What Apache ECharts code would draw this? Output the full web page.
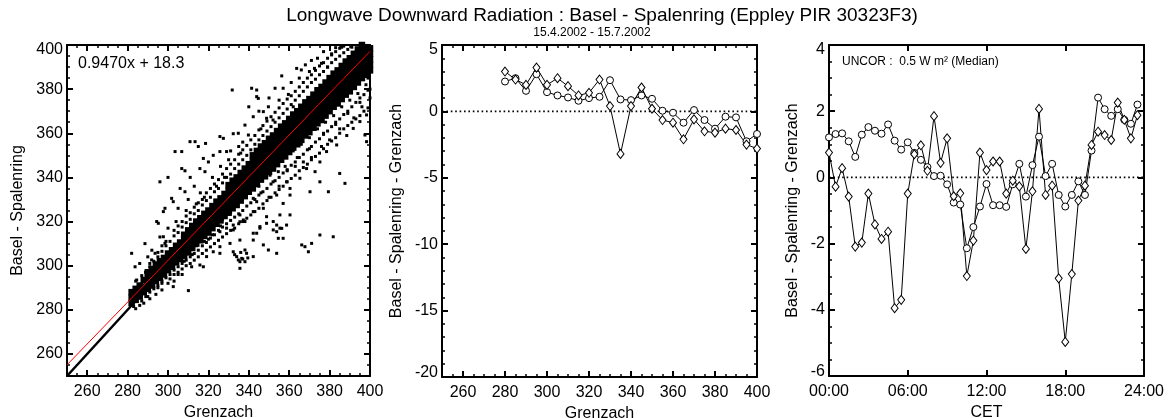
<!DOCTYPE html>
<html><head><meta charset="utf-8">
<script src="https://cdn.jsdelivr.net/npm/echarts@6/dist/echarts.min.js"></script>
<style>html,body{margin:0;padding:0;background:#fff}#c{width:1168px;height:418px}</style>
</head><body><div id="c"></div>
<script>
const FONT = '"Liberation Sans", Arial, Helvetica, sans-serif';
const titleText = 'Longwave Downward Radiation : Basel - Spalenring (Eppley PIR 30323F3)';
const subtitleText = '15.4.2002 - 15.7.2002';
const fitText = '0.9470x + 18.3';
const uncorText = 'UNCOR :  0.5 W m\u00b2 (Median)';
const fitSlope = 0.9470, fitIntercept = 18.3;

const scatterTicks = [260,280,300,320,340,360,380,400];
const diffYTicks = [-20,-15,-10,-5,0,5];
const diurnalYTicks = [-6,-4,-2,0,2,4];
const hourTicks = [0,6,12,18,24];
const hourLabels = ['00:00','06:00','12:00','18:00','24:00'];

const binCenters = [280,285,290,295,300,305,310,315,320,325,330,335,340,345,350,355,360,365,370,375,380,385,390,395,400];
const binDiamond = [3.0,2.4,2.0,3.3,2.0,2.5,1.9,1.2,1.4,2.4,0.4,-3.2,0.4,1.8,0.2,-0.65,-0.85,-2.1,-0.6,-1.5,-1.6,-1.3,-1.4,-2.5,-2.8];
const binCircle = [2.25,2.5,1.55,2.8,1.45,1.2,1.05,0.8,1.0,1.1,2.35,0.9,0.85,1.2,0.95,0.05,-0.1,-0.85,0.1,-0.65,-1.3,-0.4,-0.45,-2.25,-1.7];

const hours = [0,0.5,1,1.5,2,2.5,3,3.5,4,4.5,5,5.5,6,6.5,7,7.5,8,8.5,9,9.5,10,10.5,11,11.5,12,12.5,13,13.5,14,14.5,15,15.5,16,16.5,17,17.5,18,18.5,19,19.5,20,20.5,21,21.5,22,22.5,23,23.5];
const hourCircle = [1.21,1.31,1.33,1.09,0.62,1.29,1.52,1.41,1.32,1.6,1.11,0.84,1.06,0.74,0.53,0.31,0.04,0.05,-0.21,-0.76,-0.82,-2.14,-1.5,-0.88,-0.2,-0.84,-0.84,-0.89,-0.21,0.41,-0.58,0.37,1.23,0.04,0.41,-0.53,-0.88,-0.53,-0.12,-0.53,0.81,2.41,2.06,1.86,2.06,1.74,1.62,2.2];
const hourDiamond = [0.75,-0.28,0.28,-0.58,-2.09,-1.97,-0.49,-1.42,-1.86,-1.64,-3.95,-3.7,-0.49,0.7,0.97,0.2,1.85,0.44,1.18,-0.57,-0.48,-2.98,-1.91,0.75,0.22,0.48,0.48,-0.49,-0.1,-0.27,-2.16,-0.42,2.07,-0.53,-0.25,-3.05,-4.97,-2.92,-0.7,-0.25,0.98,1.38,1.28,1.13,2.26,1.74,1.18,1.88];

// dense core of the scatter cloud: [Grenzach, [Basel values...]]
const coreColumns = [
[282,[283,285.5,288]],[284,[284.5,287,289.5]],[286,[286,288.5,291]],[288,[288,290.5,293.5]],
[290,[289.5,292,294.5,297]],[292,[291,293.5,296,298.5]],[294,[293,295.5,298,300.5]],[296,[294.5,297,299.5,302]],
[298,[296,298.5,301,303.5]],[300,[298,300.5,303,305.5]],[302,[299.5,302,304.5,307]],[304,[301.5,304,306.5,309]],
[306,[303,305.5,308,310.5]],[308,[304.5,307,309.5,312,314]],[310,[306,308.5,311,313.5,316]],[312,[308,310.5,313,315.5,318]],
[314,[310,312.5,315,317.5,320]],[316,[311.5,314,316.5,319,321.5]],[318,[313.5,316,318.5,321,323.5]],[320,[315,317.5,320,322.5,325]],
[322,[317,319.5,322,324.5,327]],[324,[319,321.5,324,326.5,329]],[326,[320.5,323,325.5,328,330.5]],[328,[322.5,325,327.5,330,332.5]],
[330,[324,326.5,329,331.5,334,336.5]],[332,[326,328.5,331,333.5,336,338.5]],[334,[327.5,330,332.5,335,337.5,340]],[336,[329.5,332,334.5,337,339.5,342]],
[338,[331.5,334,336.5,339,341.5,344]],[340,[333.5,336,338.5,341,343.5,346]],[342,[335,337.5,340,342.5,345,347.5,350]],[344,[337,339.5,342,344.5,347,349.5,352]],
[346,[339,341.5,344,346.5,349,351.5,354]],[348,[340.5,343,345.5,348,350.5,353,355.5]],[350,[342.5,345,347.5,350,352.5,355,357.5]],[352,[344,346.5,349,351.5,354,356.5,359]],
[354,[346,348.5,351,353.5,356,358.5,361]],[356,[348,350.5,353,355.5,358,360.5,363]],[358,[349.5,352,354.5,357,359.5,362,364.5]],[360,[351.5,354,356.5,359,361.5,364,366.5]],
[362,[353.5,356,358.5,361,363.5,366,368.5]],[364,[355,357.5,360,362.5,365,367.5,370]],[366,[357,359.5,362,364.5,367,369.5,372]],[368,[359,361.5,364,366.5,369,371.5,374]],
[370,[360.5,363,365.5,368,370.5,373,375.5]],[372,[362.5,365,367.5,370,372.5,375,377.5]],[374,[364.5,367,369.5,372,374.5,377,379.5]],[376,[366,368.5,371,373.5,376,378.5,381]],
[378,[368,370.5,373,375.5,378,380.5,383]],[380,[370,372.5,375,377.5,380,382.5,385]],[382,[372,374.5,377,379.5,382,384.5,387]],[384,[373.5,376,378.5,381,383.5,386,388.5]],
[386,[375.5,378,380.5,383,385.5,388,390.5]],[388,[377.5,380,382.5,385,387.5,390,392.5]],[390,[379,381.5,384,386.5,389,391.5,394]],[392,[381,383.5,386,388.5,391,393.5,396]],
[394,[383,385.5,388,390.5,393,395.5,398]],[396,[385,387.5,390,392.5,395,397.5,400]],[398,[386.5,389,391.5,394,396.5,399]],[400,[388.5,391,393.5,396,398.5]]
];
// points just outside the core
const haloColumns = [
[284,[293,280.5]],[287,[295.5,284]],[289,[297,286]],[291,[299.5,301,288]],[293,[302,289.5,290.5]],[295,[304,306,291]],
[297,[306.5,293,292]],[299,[309,311,294.5]],[301,[311,296,294]],[303,[313.5,316,298,296]],[305,[315,318,299.5,297]],
[307,[317.5,320,301,298.5]],[309,[319.5,322.5,302.5,300]],[311,[321,324,304,301]],[313,[323.5,326.5,305.5,302.5]],
[315,[325,328.5,307,304]],[317,[327.5,330,309,305.5]],[319,[329.5,333,310.5,307]],[321,[331,335,312.5,308.5]],
[323,[333.5,337,314,310]],[325,[335,339,316,311.5]],[327,[337.5,341.5,317.5,313]],[329,[340,344,319,314.5]],
[331,[341.5,346,320.5,316]],[333,[344,348,322,317]],[335,[346,350.5,323.5,319]],[337,[348,352.5,325,320]],
[339,[350,354.5,327,321.5]],[341,[352.5,357,328.5,323]],[343,[355,359,330,324.5]],[345,[357,361.5,332,326]],
[347,[359,363.5,333.5,328]],[349,[361,365.5,335,329.5]],[351,[363,367.5,337,331]],[353,[365,369.5,338.5,333]],
[355,[367,371.5,340,334.5]],[357,[369,373.5,342,336]],[359,[371,375.5,343.5,338]],[361,[373,377,345.5,339.5]],
[363,[375,379,347,341]],[365,[377,381,349,343]],[367,[379,383,350.5,344.5]],[369,[381,385,352.5,346]],
[371,[383,386.5,354,348]],[373,[384.5,388.5,356,349.5]],[375,[386.5,390.5,357.5,351]],[377,[388,392,359.5,353]],
[379,[390,394,361,355]],[381,[392,395.5,363,356.5]],[383,[393.5,397,365,358]],[385,[395,398.5,366.5,360]],
[387,[396.5,399.5,368.5,362]],[389,[398,370,363.5]],[391,[399,372,365]],[393,[374,366.5]],[395,[376,368]],[397,[377.5,370]],[399,[379.5,371.5]]
];
const scatterOutliers = [
[331.8,379.6],[341.4,380.4],[343.9,379.6],[343.9,376.6],[344.7,375.8],[353,380.4],[357,380.4],[356.3,386],[359.6,377.6],[363.7,389.4],[366,388.7],[370,388],[372.5,389.4],[376,391.7],[379,390],
[347.2,369.8],[349.7,372],[348.8,366.8],[342.2,367.5],[338.1,363.7],[339.8,359.2],[325.7,358.5],[327.4,357.7],[332.3,359.8],[334.8,360],[313.4,356.2],[315,354],[310.9,356.2],[306.8,351.7],[318.6,355.4],
[317.5,348.6],[320,347],[322.4,350],[325.7,351.7],[329,351.7],[315.8,344],[318.3,342.6],[306.8,344],[308.4,343],[306,335],[308.4,333.5],[301.8,330.5],[302.6,329],[298.5,326],[297.7,324.5],[294.4,320],[295.2,319.2],
[303.5,351.7],[296,338],[300,340],[311,340],[313,336],[305,326],[310,330],[316,333],[322,340],[326,345],[330,348],[335,354],[337,356],[340,372],[345,370],[350,376],[355,375],[361,383],[365,385],[368,391],[374,394],[381,396],[386,399],[377,397],[371,393],[383,398.8],
[362,372],[352,366],[346,362],[336,351],[331,352],[328,340],[324,336],[318,331],[314,328],[309,325],[304,320],[300,317],[296,313],[292,307],[290,304],[288.6,310],[282,305.6],[283.7,299.5],[284.5,293.5],[291.9,302.6],[293.6,305.6],[297,309],[286,301],[289,297],[298.5,310.1],[297.7,313.1],
[350.5,341],[354.6,342.6],[358.7,338],[360.4,335],[365.3,339.6],[368.6,344],[372.8,342.6],[375.2,347],[378.5,351.7],[383.5,354.7],[388.5,359],[391.7,362.2],[395,365.3],[398.3,368.3],[385,341.8],[387.6,337.3],[398.3,356.2],[397.5,359.2],
[375.2,338],[379.4,333.5],[370.3,333.5],[353.8,332],[357,328.2],[360.4,332],[355.4,323],[360.4,323],[358.7,318.4],[355.4,317],[353.8,315.4],[343.9,329],[347.2,326],[342.2,324.5],[348.8,322.2],[352.1,320],[345.5,317],
[335.6,323],[338.1,320],[332.3,318.4],[329,317],[325.7,315.4],[342.2,330.5],[332.3,316.2],[335.6,319.9],[337.3,320.7],[342.2,314.7],[345.5,317.7],[348.8,319.2],[352.1,316.2],[353.8,318.4],[356.3,316.9],[354.6,312.4],[357,312.4],[343.9,314.7],[342.2,311.6],
[330.7,310.1],[332.3,306.3],[335.6,311.6],[338.1,307.1],[334,304.1],[334.8,302.6],[335.6,301.8],[336.5,303.3],[338.1,301.8],[338.9,305.6],[335.6,298.8],[337,303],[333,305],[339.5,303.5],[336,306],
[325.7,308.6],[325.7,305.6],[322.4,306.3],[319.1,304.1],[317.5,299.5],[315.8,300.3],[311.7,299.5],[310.1,288.7],[302.6,290.5],
[366.2,309.4],[367.8,308.6],[369.5,306.3],[371.1,310.1],[375.2,313.9],[381.8,313.1],[347.2,309.4],[349.7,307.1],[353.8,305.6],[342.2,304.1],
[340,335],[344,338],[348,340],[352,345],[356,348],[362,352],[366,355],[370,358],[374,362],[378,365],[382,368],[386,372],[390,375],[394,378],[398,382],[400,376],[399,385],[392,367],[396,372],[385,362],[380,357],[376,354],[371,349],[367,347],[363,345],[359,343],[355,336],[350,331],[346,333],
[331,324],[327,321],[322,314],[318,311],[314,309],[312,305],[308,302],[305,296],[300,292],[297,289],[294,287],[291,285],[288,283],[286,282],[283,281.5],[290,286],[295,290],[303,293],[307,296],[320,312],[326,318],[333,327],[345,336],[352,338],[358,345],[364,349],[370,353],[377,360],[383,364],[389,369],[395,374],[400,380]
];
const oneToOne = [[250,250],[400,400]];

function flatten(cols){ const out=[]; cols.forEach(c=>c[1].forEach(y=>out.push([c[0],y]))); return out; }

const xAxes = [], yAxes = [];
function addAxisSet(list, dim, gi, c) {
  const pos = dim === 'x' ? ['bottom','top'] : ['left','right'];
  const first = list.length;
  const common = {type:'value', gridIndex:gi, min:c.min, max:c.max, splitLine:{show:false}, silent:true};
  const txt = {color:'#000', fontSize:16, fontFamily:FONT};
  pos.forEach((p,k) => {
    list.push(Object.assign({}, common, {
      position:p,
      name: k===0 ? c.name : '',
      nameLocation:'middle', nameGap:c.nameGap,
      nameTextStyle:txt,
      axisLine:{show:true, onZero:false, lineStyle:{color:'#000', width:2}},
      axisTick:{show:true, inside:true, length:6, customValues:c.major, lineStyle:{color:'#000', width:2}},
      axisLabel:{show:k===0, customValues:c.major, margin:c.margin, color:'#000', fontSize:16, fontFamily:FONT,
        formatter:c.fmt,
        rich:{hi:Object.assign({padding:[10,0,0,0]},txt), lo:Object.assign({padding:[0,0,8,0]},txt)}}
    }));
    if (c.minor) list.push(Object.assign({}, common, {
      position:p, interval:c.minor,
      axisLine:{show:false, onZero:false},
      axisTick:{show:true, inside:true, length:3, lineStyle:{color:'#000', width:1.5}},
      axisLabel:{show:false}
    }));
  });
  return first;
}
function yFmt(max, min){ return v => v===max ? '{hi|'+v+'}' : (v===min ? '{lo|'+v+'}' : String(v)); }

const x0 = addAxisSet(xAxes,'x',0,{min:250,max:400,major:scatterTicks,minor:5,name:'Grenzach',nameGap:25,margin:8,fmt:v=>String(v)});
const y0 = addAxisSet(yAxes,'y',0,{min:250,max:400,major:scatterTicks,minor:5,name:'Basel - Spalenring',nameGap:41,margin:4,fmt:yFmt(400,250)});
const x1 = addAxisSet(xAxes,'x',1,{min:250,max:400,major:scatterTicks,minor:5,name:'Grenzach',nameGap:24,margin:8,fmt:v=>String(v)});
const y1 = addAxisSet(yAxes,'y',1,{min:-20,max:5,major:diffYTicks,minor:1,name:'Basel - Spalenring - Grenzach',nameGap:37,margin:4,fmt:yFmt(5,-20)});
const x2 = addAxisSet(xAxes,'x',2,{min:0,max:24,major:hourTicks,minor:0,name:'CET',nameGap:25,margin:8,fmt:v=>hourLabels[hourTicks.indexOf(v)]});
const y2 = addAxisSet(yAxes,'y',2,{min:-6,max:4,major:diurnalYTicks,minor:0.5,name:'Basel - Spalenring - Grenzach',nameGap:28,margin:4,fmt:yFmt(4,-6)});

const openSym = {color:'#fff', borderColor:'#000', borderWidth:1, opacity:1};
function profile(xi, yi, xs, ys, sym, size){
  return {type:'line', xAxisIndex:xi, yAxisIndex:yi, data:xs.map((x,i)=>[x,ys[i]]), symbol:sym, symbolSize:size, showSymbol:true,
    itemStyle:openSym, lineStyle:{color:'#000', width:1}, silent:true, z:3};
}
function zeroLine(xi, yi, a, b){
  return {type:'line', xAxisIndex:xi, yAxisIndex:yi, data:[[a,0],[b,0]], symbol:'none', silent:true, z:2,
    lineStyle:{color:'#000', width:1.6, type:[1.6,2.8]}};
}
const dot = {color:'#000', opacity:1};
const gridBase = {outerBoundsMode:'none', containLabel:false};

const option = {
  animation:false,
  backgroundColor:'#fff',
  grid:[
    Object.assign({left:67,top:45,width:303,height:331}, gridBase),
    Object.assign({left:442,top:45,width:315,height:332}, gridBase),
    Object.assign({left:829,top:45,width:315,height:331}, gridBase)
  ],
  xAxis:xAxes, yAxis:yAxes,
  graphic:[
    {type:'text', x:602, y:16, style:{text:titleText, fill:'#000', fontSize:19, fontFamily:FONT, align:'center', verticalAlign:'middle'}},
    {type:'text', x:592, y:33, style:{text:subtitleText, fill:'#000', fontSize:12, fontFamily:FONT, align:'center', verticalAlign:'middle'}},
    {type:'text', x:78, y:64, style:{text:fitText, fill:'#000', fontSize:16, fontFamily:FONT, align:'left', verticalAlign:'middle'}},
    {type:'text', x:842, y:62, style:{text:uncorText, fill:'#000', fontSize:12, fontFamily:FONT, align:'left', verticalAlign:'middle'}}
  ],
  series:[
    {type:'line', xAxisIndex:x0, yAxisIndex:y0, data:oneToOne, symbol:'none', lineStyle:{color:'#000', width:2.5}, silent:true, z:1},
    {type:'scatter', xAxisIndex:x0, yAxisIndex:y0, data:flatten(coreColumns), symbol:'rect', symbolSize:6.5, itemStyle:dot, silent:true, z:2},
    {type:'scatter', xAxisIndex:x0, yAxisIndex:y0, data:flatten(haloColumns), symbol:'rect', symbolSize:3, itemStyle:dot, silent:true, z:2},
    {type:'scatter', xAxisIndex:x0, yAxisIndex:y0, data:scatterOutliers, symbol:'rect', symbolSize:3, itemStyle:dot, silent:true, z:2},
    {type:'line', xAxisIndex:x0, yAxisIndex:y0, data:[[250,250*fitSlope+fitIntercept],[400,400*fitSlope+fitIntercept]], symbol:'none', lineStyle:{color:'#ff0000', width:1}, silent:true, z:4},
    zeroLine(x1, y1, 250, 400),
    profile(x1, y1, binCenters, binCircle, 'circle', 7),
    profile(x1, y1, binCenters, binDiamond, 'diamond', [7,9]),
    zeroLine(x2, y2, 0, 24),
    profile(x2, y2, hours, hourCircle, 'circle', 7),
    profile(x2, y2, hours, hourDiamond, 'diamond', [7,9])
  ]
};
const chart = echarts.init(document.getElementById('c'), null, {renderer:'canvas'});
chart.setOption(option);
</script></body></html>
